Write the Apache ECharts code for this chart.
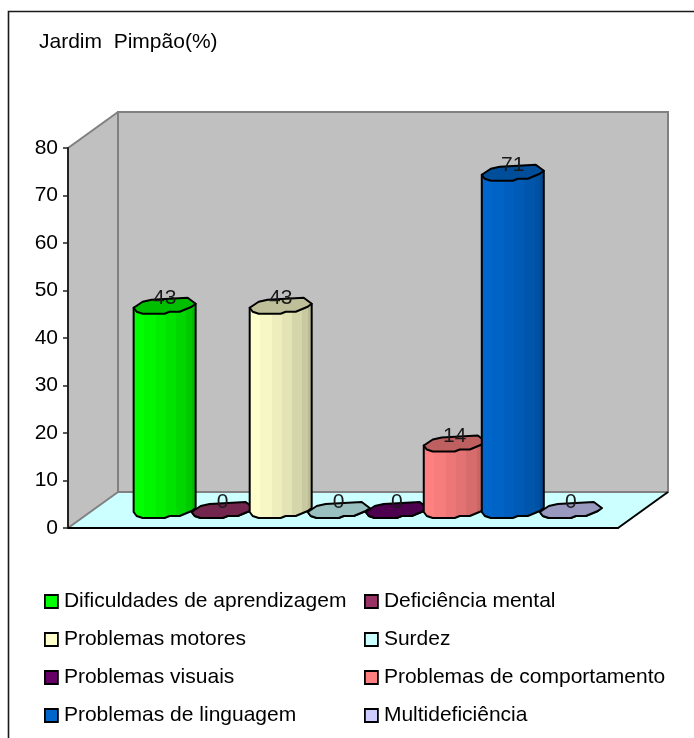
<!DOCTYPE html>
<html><head><meta charset="utf-8">
<style>html,body{margin:0;padding:0;background:#fff}#c{width:694px;height:738px}</style>
<script src="https://cdn.jsdelivr.net/npm/echarts@6/dist/echarts.min.js"></script>
</head><body><div id="c"></div>
<script>
const titleText = 'Jardim  Pimpão(%)';
const categoryLabels = [''];
const seriesNames = ['Dificuldades de aprendizagem','Deficiência mental','Problemas motores','Surdez','Problemas visuais','Problemas de comportamento','Problemas de linguagem','Multideficiência'];
const seriesValues = [43,0,43,0,0,14,71,0];
const seriesColors = ['#00ff00','#993366','#ffffcc','#ccffff','#660066','#ff8080','#0066cc','#ccccff'];
const yTicks = [0,80,10];
const legendLeft = [seriesNames[0],seriesNames[2],seriesNames[4],seriesNames[6]];
const legendRight = [seriesNames[1],seriesNames[3],seriesNames[5],seriesNames[7]];

const FONT = '"Liberation Sans", Arial, sans-serif';
const DX = 50, DY = 36;            // wall depth
const BAR_DX = 25, BAR_DY = 18;    // bars stand mid-depth
const GAP = 0.0775, BAR_W = 0.1055; // fractions of the category band

// lumpy outline of the cylinder's cross-section, relative to its centre
const RING_TOP = [[-31,2],[-22,-4],[-13,-6],[23,-8],[31,-2]];
const RING_LOW = [[-31,2],[-28,6],[-22,8],[0,8],[5,6],[15,6],[27,1],[31,-2]];
const RING_BACK = [[27,1],[15,6],[5,6],[0,8],[-22,8],[-28,6]];

function shade(hex,f){
  const n=parseInt(hex.slice(1),16);
  const c=[(n>>16)&255,(n>>8)&255,n&255].map(v=>Math.round(v*f));
  return 'rgb('+c.join(',')+')';
}
const STEPS=[[0,.18,1],[.18,.36,.97],[.36,.52,.93],[.52,.68,.89],[.68,.84,.84],[.84,.93,.79],[.93,1,.73]];
function bodyFill(hex){
  const stops=[];
  STEPS.forEach(s=>{stops.push({offset:s[0],color:shade(hex,s[2])});stops.push({offset:s[1],color:shade(hex,s[2])});});
  return {type:'linear',x:0,y:0,x2:1,y2:0,colorStops:stops};
}

function renderWalls(params,api){
  const p00=api.coord(['',0]), p80=api.coord(['',80]);
  const w=api.size(['',0])[0];
  const x0=p00[0]-w/2, x1=p00[0]+w/2, y0=p00[1], y1=p80[1];
  const grey={stroke:'#808080',lineWidth:2,lineJoin:'miter'};
  const poly=(pts,fill,stroke)=>({type:'polygon',shape:{points:pts},style:Object.assign({fill:fill},stroke||{stroke:'none'})});
  const line=(a,b,col)=>({type:'line',shape:{x1:a[0],y1:a[1],x2:b[0],y2:b[1]},style:{stroke:col,lineWidth:2}});
  return {type:'group',children:[
    poly([[x0,y0],[x0+DX,y0-DY],[x0+DX,y1-DY],[x0,y1]],'#c0c0c0'),
    poly([[x0+DX,y0-DY],[x1+DX,y0-DY],[x1+DX,y1-DY],[x0+DX,y1-DY]],'#c0c0c0',grey),
    poly([[x0,y0],[x1,y0],[x1+DX,y0-DY],[x0+DX,y0-DY]],'#ccffff'),
    line([x0,y1],[x0+DX,y1-DY],'#808080'),
    line([x0,y0],[x0+DX,y0-DY],'#808080'),
    line([x0+DX,y0-DY],[x1+DX,y0-DY],'#808080'),
    line([x1+DX,y0-DY],[x1+DX,y1-DY],'#808080'),
    line([x1,y0],[x1+DX,y0-DY],'#000')
  ]};
}

function barRenderer(i){
  return function(params,api){
    const v=api.value(1);
    const p=api.coord(['',v]), b=api.coord(['',0]);
    const w=api.size(['',0])[0];
    const cx=p[0]-w/2+BAR_DX+w*GAP+(i+0.5)*w*BAR_W;
    const top=p[1]-BAR_DY, base=b[1]-BAR_DY;
    const at=(pts,y)=>pts.map(q=>[cx+q[0],y+q[1]]);
    const body=at([RING_TOP[0]],top).concat(at(RING_LOW,base)).concat(at([RING_TOP[4]],top));
    const ring=at(RING_TOP,top).concat(at(RING_BACK,top));
    const ol={stroke:'#000',lineWidth:2,lineJoin:'round'};
    return {type:'group',children:[
      {type:'polygon',z2:10+i,shape:{points:body},style:Object.assign({fill:bodyFill(seriesColors[i])},ol)},
      {type:'polygon',z2:10+i,shape:{points:ring},style:Object.assign({fill:shade(seriesColors[i],.75)},ol)},
      {type:'text',z2:100,style:{text:String(v),x:cx,y:top-7.5,align:'center',verticalAlign:'middle',fill:'#1a1a1a',font:'21px '+FONT}}
    ]};
  };
}

const legendBase={orient:'vertical',padding:0,itemWidth:13,itemHeight:13,itemGap:17,icon:'rect',
  selectedMode:false,textStyle:{fontFamily:FONT,fontSize:21,color:'#000',padding:[0,0,0,1]},
  itemStyle:{borderColor:'#000',borderWidth:1.8}};

const chart=echarts.init(document.getElementById('c'),null,{renderer:'canvas'});
chart.setOption({
  animation:false,
  backgroundColor:'#fff',
  title:{text:titleText,left:39,top:32,padding:0,textStyle:{fontFamily:FONT,fontSize:21,fontWeight:'normal',color:'#000'}},
  grid:{left:68,top:148,width:550,height:380},
  xAxis:{type:'category',data:categoryLabels,axisLine:{lineStyle:{color:'#000',width:2}},axisTick:{show:false},axisLabel:{show:false},z:5},
  yAxis:{type:'value',min:yTicks[0],max:yTicks[1],interval:yTicks[2],
    axisLine:{show:true,lineStyle:{color:'#222',width:2}},
    axisTick:{show:true,length:5,lineStyle:{color:'#222',width:1.5}},
    axisLabel:{fontFamily:FONT,fontSize:21,color:'#000',margin:10},
    splitLine:{show:false},z:5},
  legend:[
    Object.assign({},legendBase,{left:44,top:591,data:legendLeft}),
    Object.assign({},legendBase,{left:364,top:591,data:legendRight})
  ],
  graphic:[{type:'polyline',z:0,shape:{points:[[8.5,738],[8.5,11.5],[694,11.5]]},style:{stroke:'#1a1a1a',lineWidth:1.6,fill:'none'}}],
  series:[
    {type:'custom',name:'_walls',silent:true,z:1,clip:false,renderItem:renderWalls,data:[['',0]],encode:{x:0,y:1}}
  ].concat(seriesNames.map((n,i)=>({
    type:'custom',name:n,clip:false,z:2,silent:true,
    itemStyle:{color:seriesColors[i]},
    renderItem:barRenderer(i),data:[['',seriesValues[i]]],encode:{x:0,y:1}
  })))
});
</script></body></html>
